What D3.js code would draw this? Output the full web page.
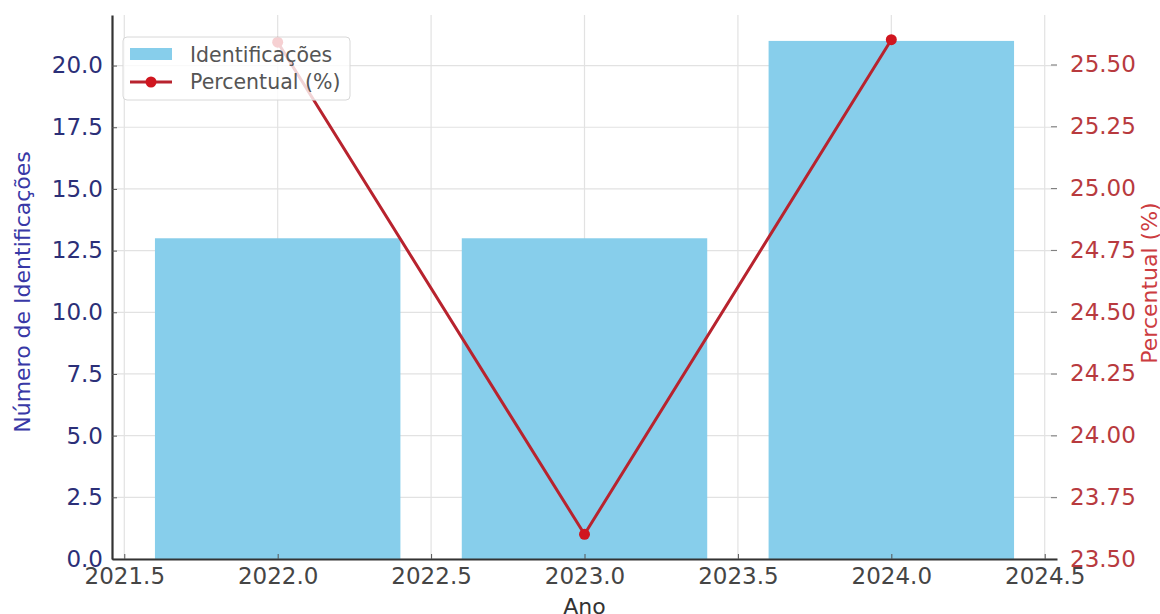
<!DOCTYPE html>
<html>
<head>
<meta charset="utf-8">
<script src="https://cdn.jsdelivr.net/npm/d3@7"></script>
<style>
  body { margin: 0; background: #fff; }
  text { font-family: "DejaVu Sans", sans-serif; }
</style>
</head>
<body>
<div id="chart"></div>
<script>
// data
const years = [2022, 2023, 2024];
const identificacoes = [13, 13, 21];
const percentual = [25.59, 23.6, 25.6];
const leftTicks = [0, 2.5, 5, 7.5, 10, 12.5, 15, 17.5, 20];
const rightTicks = [23.5, 23.75, 24, 24.25, 24.5, 24.75, 25, 25.25, 25.5];
const xTicks = [2021.5, 2022, 2022.5, 2023, 2023.5, 2024, 2024.5];

const width = 1160, height = 614;
let margin = {top: 15, right: 103, bottom: 55, left: 112};
let plotW = width - margin.left - margin.right;
let plotH = height - margin.top - margin.bottom;

let svg = d3.select("#chart").append("svg")
    .attr("width", width)
    .attr("height", height);

let g = svg.append("g")
    .attr("transform", "translate(" + margin.left + "," + margin.top + ")");

let x = d3.scaleLinear().domain([2021.46, 2024.54]).range([0, plotW]);
let yLeft = d3.scaleLinear().domain([0, 22.05]).range([plotH, 0]);
let yRight = d3.scaleLinear().domain([23.5, 25.7]).range([plotH, 0]);

// grid
g.append("g").selectAll("line").data(xTicks).join("line")
    .attr("x1", d => x(d)).attr("x2", d => x(d))
    .attr("y1", 0).attr("y2", plotH)
    .attr("stroke", "#e2e2e2").attr("stroke-width", 1.2);
g.append("g").selectAll("line").data(leftTicks).join("line")
    .attr("x1", 0).attr("x2", plotW)
    .attr("y1", d => yLeft(d)).attr("y2", d => yLeft(d))
    .attr("stroke", "#e2e2e2").attr("stroke-width", 1.2);

// bars
const barW = 0.8;
g.append("g").selectAll("rect").data(years).join("rect")
    .attr("x", d => x(d - barW / 2))
    .attr("width", d => x(d + barW / 2) - x(d - barW / 2))
    .attr("y", (d, i) => yLeft(identificacoes[i]))
    .attr("height", (d, i) => plotH - yLeft(identificacoes[i]))
    .attr("fill", "#87ceeb");

// left axis
let axL = g.append("g")
    .call(d3.axisLeft(yLeft).tickValues(leftTicks).tickFormat(d3.format(".1f")).tickSizeInner(-5).tickSizeOuter(0).tickPadding(9));
axL.select(".domain").attr("stroke", "#333").attr("stroke-width", 2.2);
axL.selectAll(".tick line").attr("stroke", "#555");
axL.selectAll("text").attr("fill", "#2b2f78").attr("font-size", 23);

// right axis
let axR = g.append("g")
    .attr("transform", "translate(" + plotW + ",0)")
    .call(d3.axisRight(yRight).tickValues(rightTicks).tickFormat(d3.format(".2f")).tickSizeInner(-6).tickSizeOuter(0).tickPadding(13));
axR.select(".domain").remove();
axR.selectAll(".tick line").attr("stroke", "#777");
axR.selectAll("text").attr("fill", "#b83a3e").attr("font-size", 23);

// bottom axis
let axB = g.append("g")
    .attr("transform", "translate(0," + plotH + ")")
    .call(d3.axisBottom(x).tickValues(xTicks).tickFormat(d3.format(".1f")).tickSizeInner(-5).tickSizeOuter(0).tickPadding(9));
axB.select(".domain").attr("stroke", "#333").attr("stroke-width", 2.2);
axB.selectAll(".tick line").attr("stroke", "#555");
axB.selectAll("text").attr("fill", "#454545").attr("font-size", 23);

// percent line
let line = d3.line()
    .x((d, i) => x(years[i]))
    .y(d => yRight(d));

g.append("path")
    .datum(percentual)
    .attr("d", line)
    .attr("fill", "none")
    .attr("stroke", "#b8232e")
    .attr("stroke-width", 3);

g.append("g").selectAll("circle").data(percentual).join("circle")
    .attr("cx", (d, i) => x(years[i]))
    .attr("cy", d => yRight(d))
    .attr("r", 5.5)
    .attr("fill", "#d0161f");

// axis titles
svg.append("text")
    .attr("transform", "translate(" + 30 + "," + 292 + ") rotate(-90)")
    .attr("text-anchor", "middle")
    .attr("font-size", 22)
    .attr("fill", "#3838a6")
    .text("Número de Identificações");

svg.append("text")
    .attr("transform", "translate(" + 1157 + "," + 283 + ") rotate(-90)")
    .attr("text-anchor", "middle")
    .attr("font-size", 22)
    .attr("fill", "#cc3c40")
    .text("Percentual (%)");

svg.append("text")
    .attr("x", margin.left + x(2023))
    .attr("y", 614)
    .attr("text-anchor", "middle")
    .attr("font-size", 22)
    .attr("fill", "#333")
    .text("Ano");

// legend
let legend = g.append("g").attr("transform", "translate(11,22)");
legend.append("rect")
    .attr("width", 227).attr("height", 63).attr("rx", 4)
    .attr("fill", "#fff").attr("fill-opacity", 0.8)
    .attr("stroke", "#d8d8d8");
legend.append("rect")
    .attr("x", 7).attr("y", 11).attr("width", 42).attr("height", 12)
    .attr("fill", "#87ceeb");
legend.append("text")
    .attr("x", 67).attr("y", 25)
    .attr("font-size", 20.5).attr("fill", "#555")
    .text("Identificações");
legend.append("line")
    .attr("x1", 7).attr("x2", 49).attr("y1", 45).attr("y2", 45)
    .attr("stroke", "#b8232e").attr("stroke-width", 3);
legend.append("circle")
    .attr("cx", 28).attr("cy", 45).attr("r", 5.5).attr("fill", "#d0161f");
legend.append("text")
    .attr("x", 67).attr("y", 52)
    .attr("font-size", 20.5).attr("fill", "#555")
    .text("Percentual (%)");
</script>
</body>
</html>
